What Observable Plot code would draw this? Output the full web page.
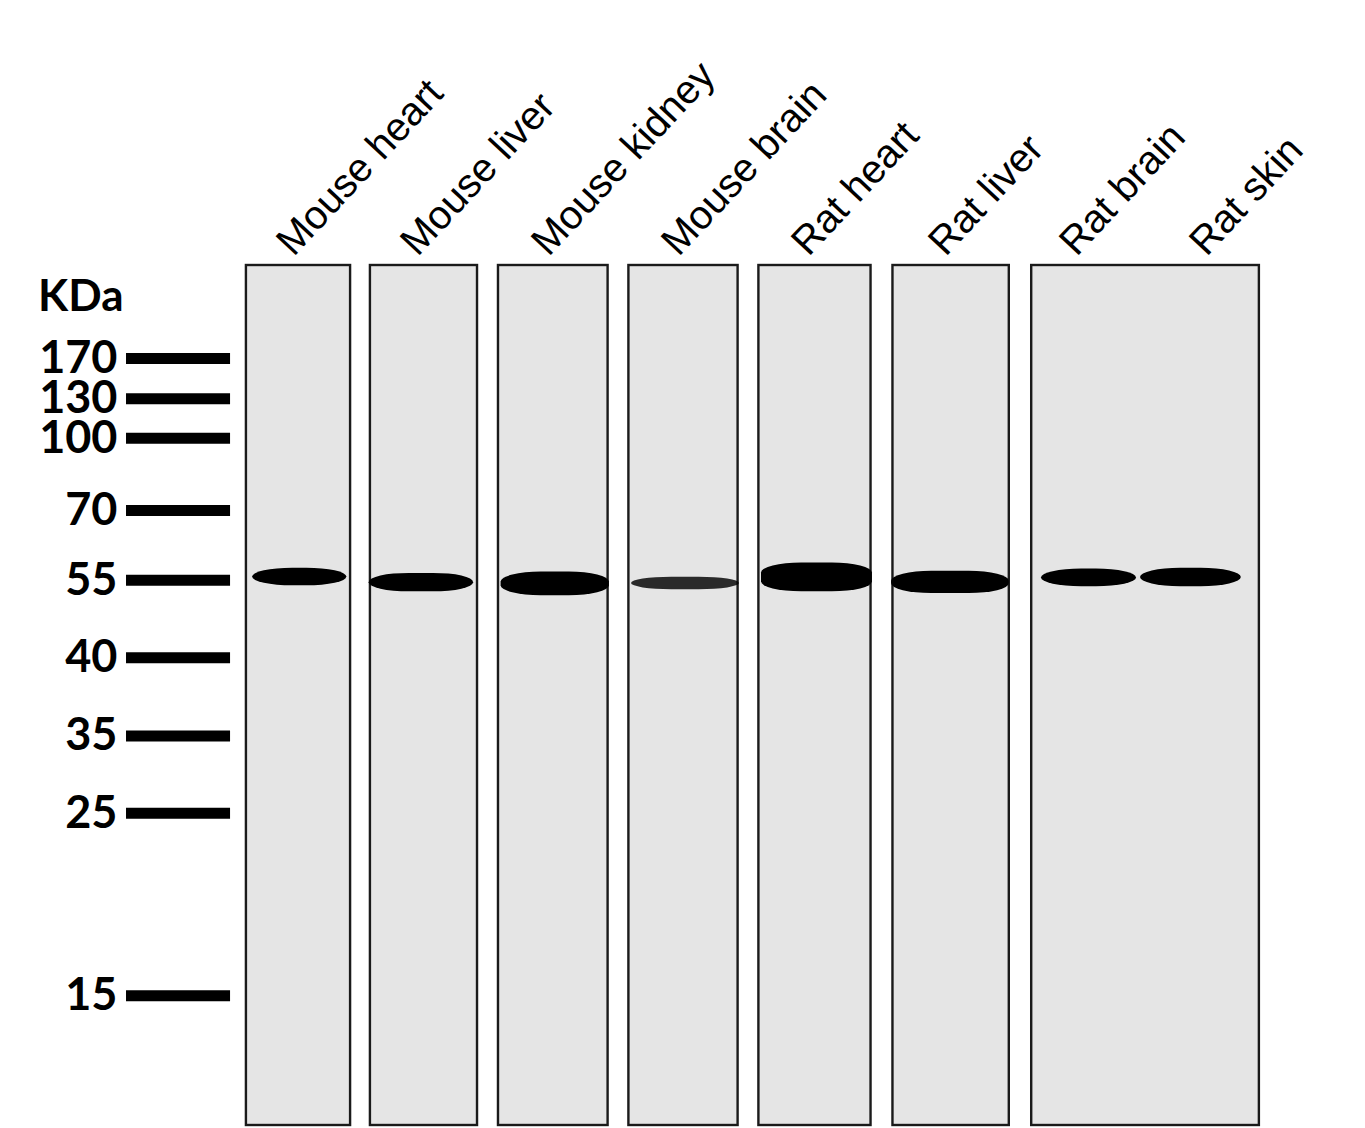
<!DOCTYPE html>
<html>
<head>
<meta charset="utf-8">
<script src="https://cdn.jsdelivr.net/npm/d3@7"></script>
<script src="https://cdn.jsdelivr.net/npm/@observablehq/plot@0.6"></script>
<style>
  body { margin: 0; background: white; }
  #chart svg { display: block; }
</style>
</head>
<body>
<div id="chart"></div>
<script>
// sample lanes, left to right
const lanes = ["Mouse heart", "Mouse liver", "Mouse kidney", "Mouse brain", "Rat heart", "Rat liver", "Rat brain", "Rat skin"];

// membrane strips (first / last lane on each strip)
const stripFirst = [0, 1, 2, 3, 4, 5, 6];
const stripLast = [0, 1, 2, 3, 4, 5, 7];

// ladder: kDa and relative mobility (0 = top of strip, 1 = bottom)
const markerKDa = [170, 130, 100, 70, 55, 40, 35, 25, 15];
const markerMobility = [0.108, 0.155, 0.201, 0.285, 0.366, 0.456, 0.547, 0.637, 0.849];

// detected band in each lane (~55 kDa)
const bandTop = [0.352, 0.358, 0.3565, 0.3625, 0.346, 0.3555, 0.353, 0.352];
const bandBottom = [0.3725, 0.3795, 0.384, 0.377, 0.3795, 0.3815, 0.3735, 0.3735];
const bandLeft = [-0.37, -0.43, -0.4, -0.4, -0.4, -0.43, -0.35, -0.5];
const bandRight = [0.39, 0.39, 0.43, 0.43, 0.43, 0.42, 0.46, 0.31];
const bandIntensity = [1, 1, 1, 0.82, 1, 1, 1, 1];

const strips = stripFirst.map((f, i) => ({first: f, last: stripLast[i]}));
const markers = markerKDa.map((k, i) => ({kda: k, mob: markerMobility[i]}));
const bands = lanes.map((l, i) => ({
  lane: i,
  x1: i + bandLeft[i],
  x2: i + bandRight[i],
  y1: bandTop[i],
  y2: bandBottom[i],
  op: bandIntensity[i]
}));

// rotated lane label; the last two labels sit a little off their lanes in the original
const laneLabel = (filter, dx) =>
  Plot.text(lanes, {
    filter,
    x: (d, i) => i,
    y: 0,
    text: (d) => d,
    rotate: -47,
    textAnchor: "start",
    lineAnchor: "bottom",
    dx,
    dy: -8,
    fontSize: 40,
    fontFamily: "Liberation Sans, Arial, sans-serif",
    fill: "black"
  });

const chart = Plot.plot({
  width: 1365,
  height: 1128,
  margin: 0,
  x: {type: "linear", domain: [0, 1, 2, 3, 4, 5, 6, 7, 8], range: [298, 422, 553, 683, 813, 950, 1090, 1190, 1354], axis: null},
  y: {type: "linear", domain: [0, 1], range: [265, 1125], axis: null},
  opacity: {type: "identity"},
  marks: [
    Plot.rect(strips, {
      x1: (d) => d.first - 0.42,
      x2: (d) => d.last + 0.42,
      y1: 0,
      y2: 1,
      fill: "#e5e5e5",
      stroke: "#1a1a1a",
      strokeWidth: 2.4
    }),
    Plot.rect(bands, {
      x1: "x1",
      x2: "x2",
      y1: "y1",
      y2: "y2",
      fill: "#000",
      fillOpacity: "op",
      rx: 40,
      ry: 10,
      ariaLabel: "band"
    }),
    Plot.ruleY(markers, {y: "mob", x1: -1.387, x2: -0.548, stroke: "black", strokeWidth: 11}),
    Plot.text(markers, {
      x: -1.46,
      y: "mob",
      text: (d) => String(d.kda),
      textAnchor: "end",
      fontSize: 45,
      fontWeight: "bold",
      fontFamily: "Lato",
      fill: "black"
    }),
    Plot.text(["KDa"], {
      x: -2.1,
      y: 0.037,
      text: (d) => d,
      textAnchor: "start",
      fontSize: 44,
      fontWeight: "bold",
      fontFamily: "Lato",
      fill: "black"
    }),
    laneLabel((d, i) => i < 6, -5),
    laneLabel((d, i) => i === 6, -14),
    laneLabel((d, i) => i === 7, 16)
  ]
});

d3.select("#chart").append(() => chart);

// soften band edges like a film exposure
const svg = d3.select(chart);
svg.append("defs")
  .append("filter")
  .attr("id", "bandblur")
  .attr("x", "-20%").attr("y", "-80%")
  .attr("width", "140%").attr("height", "260%")
  .append("feGaussianBlur")
  .attr("stdDeviation", 2);
svg.select('g[aria-label="band"]').attr("filter", "url(#bandblur)");
</script>
</body>
</html>
